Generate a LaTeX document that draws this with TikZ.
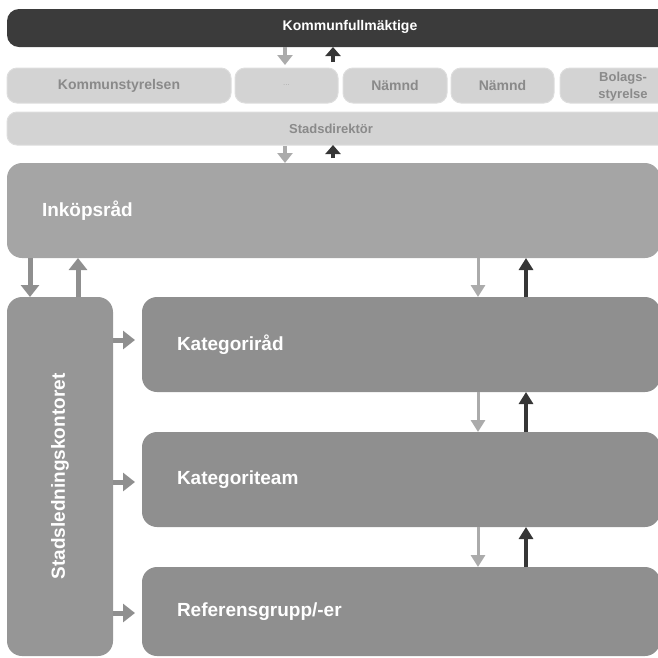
\documentclass[tikz,border=0pt]{standalone}
\usepackage{fontspec}
\setmainfont{Liberation Sans}
\usetikzlibrary{arrows.meta}
\definecolor{kfdark}{HTML}{3B3B3B}
\definecolor{rowfill}{HTML}{D3D3D3}
\definecolor{rowline}{HTML}{DDDDDD}
\definecolor{rowtext}{HTML}{8A8A8A}
\definecolor{inkop}{HTML}{A5A5A5}
\definecolor{slk}{HTML}{969696}
\definecolor{kat}{HTML}{8F8F8F}
\definecolor{arrgray}{HTML}{8F8F8F}
\definecolor{lightarr}{HTML}{ABABAB}
\definecolor{darkarr}{HTML}{363636}
\begin{document}
\begin{tikzpicture}[x=1pt,y=-1pt,
  base/.style={anchor=north west, inner sep=0pt, outer sep=0pt},
  topbox/.style={base, rounded corners=12pt, fill=kfdark, text=white,
    font=\fontsize{14}{16}\selectfont\bfseries},
  rowbox/.style={base, rounded corners=10pt, fill=rowfill, draw=rowline, line width=1pt,
    text=rowtext, align=center, font=\fontsize{14}{17}\selectfont\bfseries},
  bigbox/.style={base, rounded corners=15pt, text=white, align=left, inner xsep=35pt,
    font=\fontsize{19}{22}\selectfont\bfseries},
  thickarr/.style={draw=arrgray, line width=5pt, -{Triangle[width=18pt,length=12pt]}},
  lightdown/.style={draw=lightarr, line width=3pt, -{Triangle[width=14pt,length=12pt]}},
  darkup/.style={draw=darkarr, line width=4pt, -{Triangle[width=14pt,length=12pt]}},
  topdown/.style={draw=lightarr, line width=4pt, -{Triangle[width=15pt,length=10pt]}},
  topup/.style={draw=darkarr, line width=4pt, -{Triangle[width=15pt,length=9pt]}}
]
\useasboundingbox (0,0) rectangle (658,657);
\clip (0,0) rectangle (658,657);

% top level
\node[topbox, minimum width=673pt, minimum height=38pt] (kf) at (7,9) {};
\node[text=white, font=\fontsize{14}{16}\selectfont\bfseries] (kft) at (350,27) {Kommunfullmäktige};

% row of boards
\node[rowbox, minimum width=224pt, minimum height=35pt] (ks) at (7,68) {Kommunstyrelsen};
\node[rowbox, minimum width=103pt, minimum height=35pt, font=\fontsize{8}{10}\selectfont, text=rowtext!70] (dots) at (235,68) {...};
\node[rowbox, minimum width=104pt, minimum height=35pt] (n1) at (343,68) {Nämnd};
\node[rowbox, minimum width=103pt, minimum height=35pt] (n2) at (451,68) {Nämnd};
\node[rowbox, minimum width=126pt, minimum height=35pt] (bs) at (560,68) {};
\node[text=rowtext, align=center, font=\fontsize{13}{17}\selectfont\bfseries] (bst) at (623,87) {Bolags-\\styrelse};

% Stadsdirektör
\node[rowbox, minimum width=673pt, minimum height=33pt] (sd) at (7,112) {};
\node[text=rowtext, font=\fontsize{13}{16}\selectfont\bfseries] (sdt) at (331,129) {Stadsdirektör};

% Inköpsråd
\node[bigbox, fill=inkop, minimum width=653pt, minimum height=95pt, text width=583pt] (ink) at (7,163) {Inköpsråd};

% Stadsledningskontoret
\node[base, rounded corners=15pt, fill=slk, minimum width=106pt, minimum height=359pt,
  label={[rotate=90, text=white, font=\fontsize{19}{22}\selectfont\bfseries]center:Stadsledningskontoret}] (slk) at (7,297) {};

% category boxes
\node[bigbox, fill=kat, minimum width=518pt, minimum height=95pt, text width=448pt] (kr) at (142,297) {Kategoriråd};
\node[bigbox, fill=kat, minimum width=518pt, minimum height=95pt, text width=448pt] (kt) at (142,432) {Kategoriteam};
\node[bigbox, fill=kat, minimum width=518pt, minimum height=89pt, text width=448pt] (rg) at (142,567) {Referensgrupp/-er};

% helper coordinates
\coordinate (xd) at (285,0);
\coordinate (xu) at (333,0);
\coordinate (xd2) at (478,0);
\coordinate (xu2) at (526,0);
\coordinate (xl1) at (30,0);
\coordinate (xl2) at (78,0);
\coordinate (h1) at (0,340);
\coordinate (h2) at (0,482);
\coordinate (h3) at (0,613);

% top arrows
\draw[topdown, shorten >=3pt] (kf.south -| xd) -- (dots.north -| xd);
\draw[topup, shorten <=6pt] (dots.north -| xu) -- (kf.south -| xu);
\draw[topdown, shorten <=1pt] (sd.south -| xd) -- (ink.north -| xd);
\draw[topup, shorten <=5pt] (ink.north -| xu) -- (sd.south -| xu);

% left arrows
\draw[thickarr] (ink.south -| xl1) -- (slk.north -| xl1);
\draw[thickarr] (slk.north -| xl2) -- (ink.south -| xl2);

% right arrows
\draw[lightdown] (ink.south -| xd2) -- (kr.north -| xd2);
\draw[darkup] (kr.north -| xu2) -- (ink.south -| xu2);
\draw[lightdown] (kr.south -| xd2) -- (kt.north -| xd2);
\draw[darkup] (kt.north -| xu2) -- (kr.south -| xu2);
\draw[lightdown] (kt.south -| xd2) -- (rg.north -| xd2);
\draw[darkup] (rg.north -| xu2) -- (kt.south -| xu2);

% horizontal arrows
\draw[thickarr, shorten >=7pt] (slk.east |- h1) -- (kr.west |- h1);
\draw[thickarr, shorten >=7pt] (slk.east |- h2) -- (kt.west |- h2);
\draw[thickarr, shorten >=7pt] (slk.east |- h3) -- (rg.west |- h3);
\end{tikzpicture}
\end{document}
